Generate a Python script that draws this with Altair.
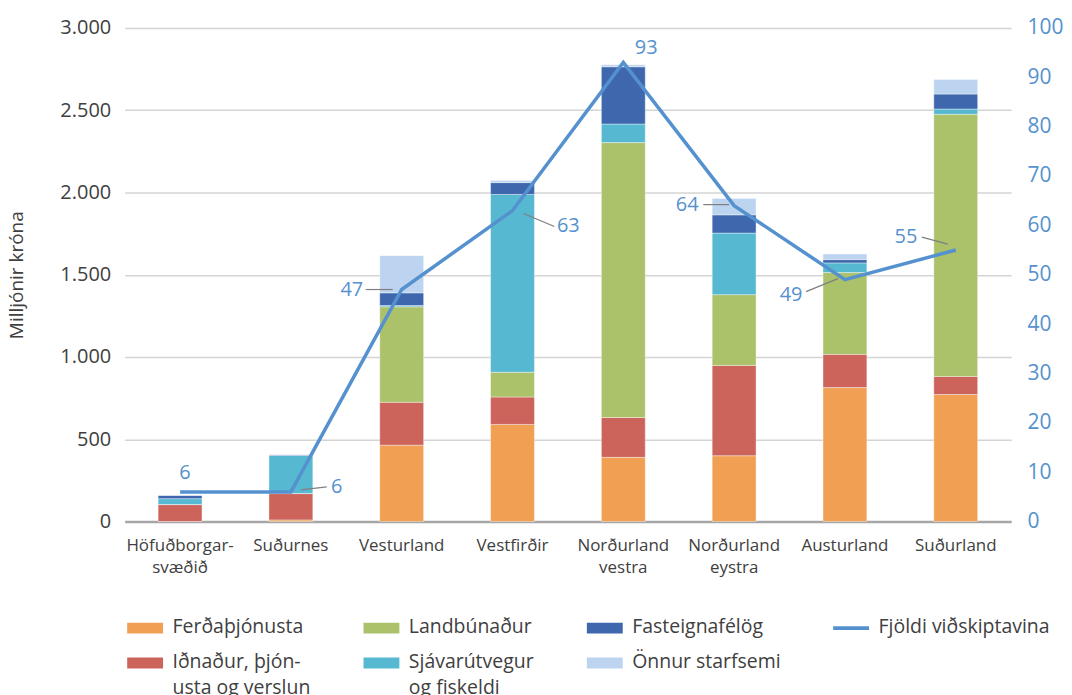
import altair as alt
import pandas as pd

# ---- data ----
regions = ["Höfuðborgarsvæðið", "Suðurnes", "Vesturland", "Vestfirðir",
           "Norðurland vestra", "Norðurland eystra", "Austurland", "Suðurland"]
series = ["Ferðaþjónusta", "Iðnaður, þjónusta og verslun", "Landbúnaður",
          "Sjávarútvegur og fiskeldi", "Fasteignafélög", "Önnur starfsemi"]
ferdathjonusta = [0, 10, 464, 590, 390, 400, 814, 772]
idnadur = [103, 160, 261, 167, 242, 549, 202, 110]
landbunadur = [0, 0, 580, 150, 1671, 430, 497, 1593]
sjavarutvegur = [36, 232, 8, 1081, 113, 374, 59, 32]
fasteignafelog = [20, 4, 77, 72, 348, 111, 20, 91]
onnur = [0, 0, 226, 12, 12, 100, 34, 89]
customers = [6, 6, 47, 63, 93, 64, 49, 55]
line_name = "Fjöldi viðskiptavina"
left_ticks = [0, 500, 1000, 1500, 2000, 2500, 3000]
right_ticks = [0, 10, 20, 30, 40, 50, 60, 70, 80, 90, 100]

# ---- style ----
series_colors = ["#F1A053", "#CC645C", "#ABC16A", "#56B9D1", "#3F67AE", "#BCD4EF"]
line_color = "#5591CE"
FONT = "Open Sans"
label_dx = [5, 46, -50, 56, 23, -47, -54, -50]
label_dy = [-19, -5, 0, 16, -15, -1, 15, -13]
# leader lines: (x1, y1, x2, y2) offsets from the point, None = no leader
leaders = [None, (10, -2, 36, -5), (-36, 0, -9, 0), (11, 3, 42, 16), None,
           (-31, -1, -5, -1), (-39, 12, -7, -1), (-34, -13, -8, -6)]

# legend order (row-major over 4 columns)
all_series = [series[0], series[2], series[4], line_name, series[1], series[3], series[5]]
all_colors = [series_colors[0], series_colors[2], series_colors[4], line_color,
              series_colors[1], series_colors[3], series_colors[5]]
box = "M-1.09,0.30H1.09V0.96H-1.09Z"
stroke_sym = "M-1.09,0.51H1.09V0.75H-1.09Z"
all_shapes = [box, box, box, stroke_sym, box, box, box]

values = [ferdathjonusta, idnadur, landbunadur, sjavarutvegur, fasteignafelog, onnur]
rows = []
for si, (s, vals) in enumerate(zip(series, values)):
    for r, v in zip(regions, vals):
        rows.append({"region": r, "series": s, "value": v, "idx": si})
bar_df = pd.DataFrame(rows)
line_df = pd.DataFrame({"region": regions, "n": customers})
legend_df = pd.DataFrame({"region": [regions[0]] * len(all_series), "series": all_series,
                          "n": [None] * len(all_series)})

x_enc = alt.X("region:N", sort=regions, title=None,
              scale=alt.Scale(paddingInner=0.6, paddingOuter=0.3),
              axis=alt.Axis(labelExpr="datum.label == 'Höfuðborgarsvæðið' ? ['Höfuðborgar-', 'svæðið'] : split(datum.label, ' ')",
                            labelAngle=0, ticks=False, labelPadding=16, labelFontSize=17,
                            labelColor="#404040", labelFont=FONT, labelLineHeight=22,
                            domainColor="#A6A6A6", domainWidth=2.5, grid=False))

label_expr = ("datum.label === 'Iðnaður, þjónusta og verslun' ? ['Iðnaður, þjón-', 'usta og verslun'] : "
              "datum.label === 'Sjávarútvegur og fiskeldi' ? ['Sjávarútvegur', 'og fiskeldi'] : datum.label")

bars = alt.Chart(bar_df).mark_bar(size=44, stroke="white", strokeWidth=0.4).encode(
    x=x_enc,
    y=alt.Y("sum(value):Q", stack="zero", title="Milljónir króna",
            scale=alt.Scale(domain=[0, 3000], nice=False),
            axis=alt.Axis(values=left_ticks, orient="left", domain=False, ticks=False,
                          labelExpr="replace(format(datum.value, ','), ',', '.')",
                          labelFontSize=20, labelColor="#404040", labelFont=FONT,
                          labelPadding=14, gridColor="#D4D4D4", gridWidth=1.5,
                          titleFont=FONT, titleFontSize=19, titleFontWeight="normal",
                          titleColor="#404040", titlePadding=33)),
    color=alt.Color("series:N", scale=alt.Scale(domain=series, range=series_colors), legend=None),
    order=alt.Order("idx:Q", sort="ascending"),
)

y_right = alt.Y("n:Q", title=None, scale=alt.Scale(domain=[0, 100], nice=False),
                axis=alt.Axis(values=right_ticks, orient="right", domain=False, ticks=False,
                              grid=False, labelFontSize=21, labelColor=line_color,
                              labelFont=FONT, labelPadding=16))

line = alt.Chart(line_df).mark_line(color=line_color, strokeWidth=3.5).encode(
    x=alt.X("region:N", sort=regions), y=y_right)

legend_spec = alt.Legend(title=None, orient="none", legendX=4, legendY=575,
                         columns=4, direction="horizontal", gridAlign="each",
                         columnPadding=52, rowPadding=-6, padding=0,
                         symbolSize=1089, symbolStrokeWidth=0, symbolOffset=0,
                         symbolOpacity=1,
                         labelFont=FONT, labelFontSize=19.5, labelColor="#404040",
                         labelLimit=400, labelOffset=11, labelBaseline="top",
                         labelExpr=label_expr)

legend_layer = alt.Chart(legend_df).mark_point(filled=True, strokeWidth=0, opacity=1).encode(
    x=alt.X("region:N", sort=regions),
    y=alt.Y("n:Q"),
    color=alt.Color("series:N", scale=alt.Scale(domain=all_series, range=all_colors),
                    legend=legend_spec),
    shape=alt.Shape("series:N", scale=alt.Scale(domain=all_series, range=all_shapes),
                    legend=legend_spec),
)

right_layers = [line, legend_layer]
for i, r in enumerate(regions):
    base = alt.Chart(line_df).transform_filter(alt.datum.region == r)
    right_layers.append(
        base.mark_text(dx=label_dx[i], dy=label_dy[i], font=FONT, fontSize=20,
                       color=line_color).encode(
            x=alt.X("region:N", sort=regions), y=alt.Y("n:Q"), text="n:Q"))
    if leaders[i] is not None:
        x1, y1, x2, y2 = leaders[i]
        right_layers.append(
            base.mark_rule(color="#7F7F7F", strokeWidth=1.2, xOffset=x1, yOffset=y1,
                           x2Offset=x2, y2Offset=y2).encode(
                x=alt.X("region:N", sort=regions), x2=alt.X2("region"),
                y=alt.Y("n:Q"), y2=alt.Y2("n")))

right = alt.layer(*right_layers)

chart = alt.layer(bars, right).resolve_scale(
    y="independent", color="independent", shape="independent").properties(
    width=889, height=495,
    padding={"top": 8, "left": 0, "right": 0, "bottom": 0},
).configure(style={"guide-label": {"lineHeight": 26}}).configure_view(stroke=None)

chart.save("out.html", embed_options={"renderer": "svg", "actions": False})
